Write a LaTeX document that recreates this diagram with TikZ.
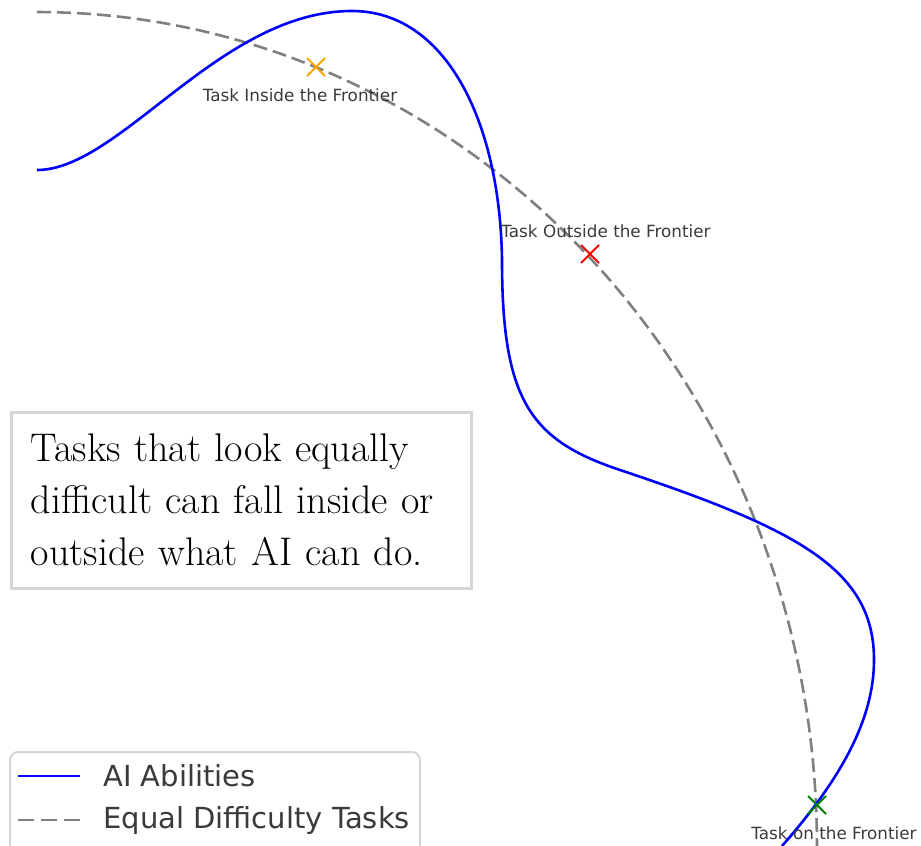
\documentclass[tikz,border=0pt]{standalone}
\usepackage{fontspec}
\newfontfamily\dejavu{DejaVu Sans}
\usetikzlibrary{shapes.misc}
\definecolor{framegray}{HTML}{D6D6D6}
\definecolor{labelgray}{HTML}{3A3A3A}
\definecolor{dashgray}{HTML}{808080}
\definecolor{markorange}{HTML}{FFA500}
\definecolor{markgreen}{HTML}{008000}

\begin{document}
\begin{tikzpicture}[
  x=0.5pt, y=-0.5pt,
  ability/.style={draw=blue, line width=1.3pt},
  equaltask/.style={draw=dashgray, line width=1.3pt, dash pattern=on 7pt off 3pt},
  taskmark/.style={cross out, draw, line width=1pt, minimum size=8pt, inner sep=0pt},
  tasklabel/.style={font=\dejavu\fontsize{8.4}{10}\selectfont, text=labelgray, inner sep=0pt},
  legendtext/.style={font=\dejavu\fontsize{14.5}{17}\selectfont, text=labelgray, anchor=west, inner sep=0pt},
  notebox/.style={draw=framegray, line width=1.5pt, fill=white, align=left,
    text width=210pt, inner xsep=10pt, minimum height=88pt,
    font=\fontsize{20}{26}\selectfont}
]
\useasboundingbox (0,0) rectangle (921,846);
\clip (0,0) rectangle (921,846);

% equal difficulty arc
\draw[equaltask] plot[domain=90:0, samples=120] ({37+780*cos(\x)},{846-834*sin(\x)});

% AI abilities
\draw[ability] (37,170) .. controls (120,170) and (220,11) .. (352,11)
  .. controls (445,11) and (500,120) .. (502,260)
  .. controls (502,400) and (530,440) .. (620,470)
  .. controls (800,530) and (874,570) .. (874,660)
  .. controls (874,720) and (840,780) .. (782,846);

% tasks
\node[taskmark, draw=markorange] (inside) at (316,67) {};
\node[taskmark, draw=red] (outside) at (590,254) {};
\node[taskmark, draw=markgreen] (onfront) at (817,805) {};
\node[tasklabel] (insidelbl) at (300,95) {Task Inside the Frontier};
\node[tasklabel] (outsidelbl) at (606,231) {Task Outside the Frontier};
\node[tasklabel] (onfrontlbl) at (834,833) {Task on the Frontier};

% note
\node[notebox] (note) at (241,500) {Tasks that look equally\\ difficult can fall inside or\\ outside what AI can do.};

% legend
\draw[draw=framegray, line width=1pt, fill=white, rounded corners=4pt] (10,752) rectangle (420,880);
\coordinate (ab1) at (18,776);
\coordinate (ab2) at (80,776);
\coordinate (eq1) at (18,820);
\coordinate (eq2) at (80,820);
\draw[ability] (ab1) -- (ab2);
\draw[equaltask, dash pattern=on 8pt off 3.5pt] (eq1) -- (eq2);
\node[legendtext] (ablbl) at (103,776) {AI Abilities};
\node[legendtext] (eqlbl) at (103,820) {Equal Difficulty Tasks};
\end{tikzpicture}
\end{document}
